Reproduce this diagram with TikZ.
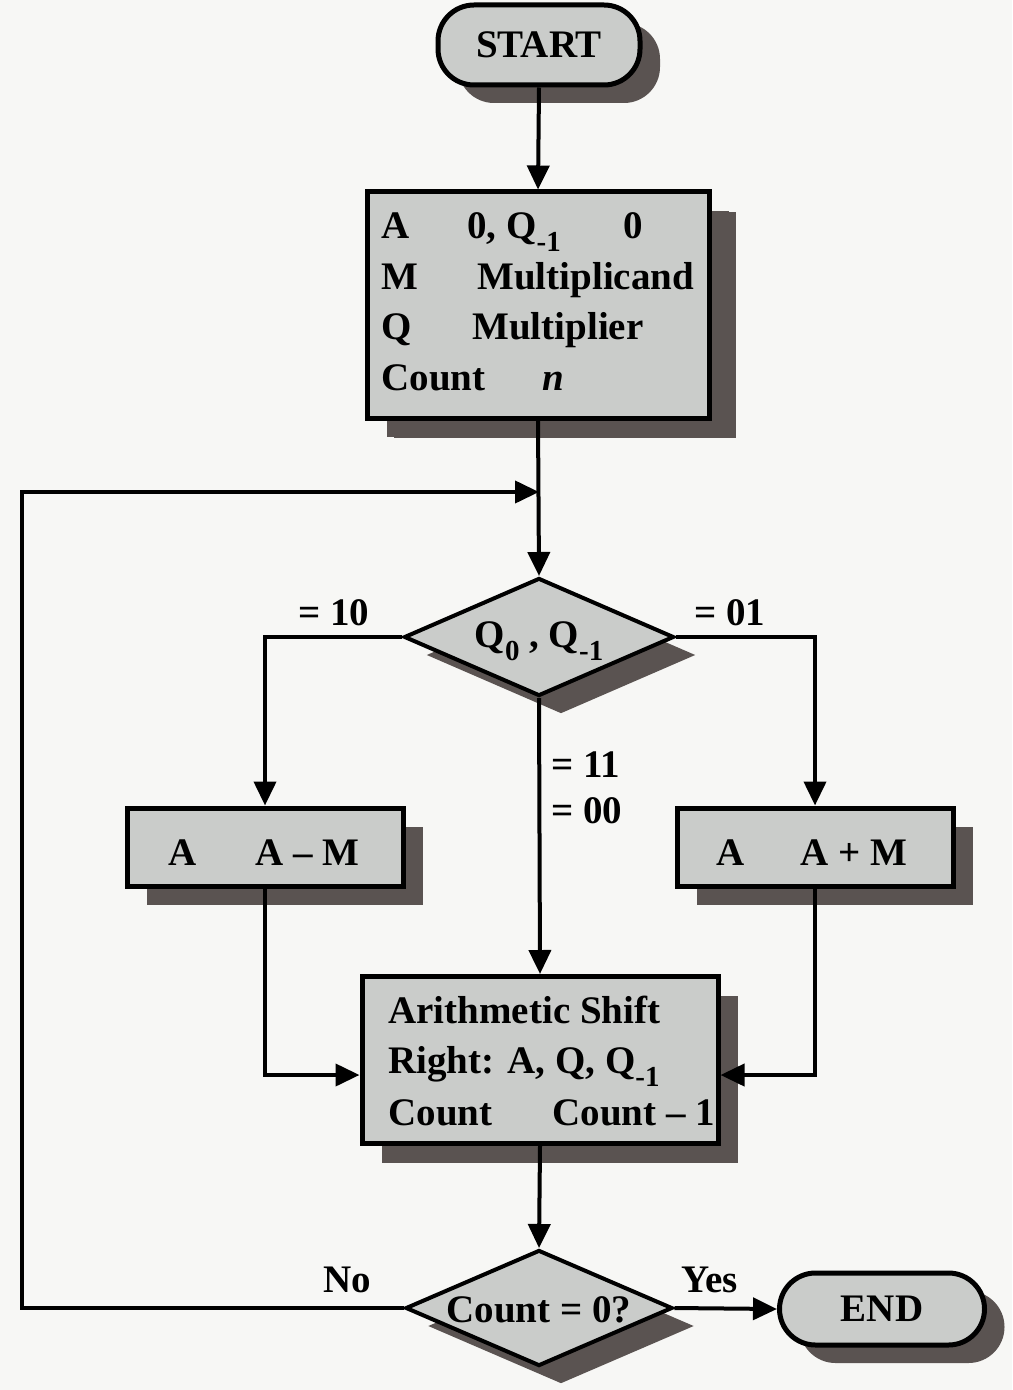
\documentclass[tikz,border=0pt]{standalone}
\usepackage{fontspec}
\setmainfont{Liberation Serif}
\usetikzlibrary{arrows.meta,shapes.geometric,shadows,calc}
\definecolor{bg}{HTML}{F7F7F5}
\definecolor{boxfill}{HTML}{CACCCA}
\definecolor{shade}{HTML}{5A5351}
\newcommand\lbl{\fontsize{19.5}{23}\selectfont\bfseries}
\newcommand\sbs[1]{\raisebox{-6.5pt}{\fontsize{14.5}{15}\selectfont\bfseries #1}}
\begin{document}
\begin{tikzpicture}[x=0.5pt,y=-0.5pt,
  shd/.style 2 args={drop shadow={shadow xshift=#1,shadow yshift=#2,fill=shade,opacity=1}},
  base/.style={draw=black,line width=2.5pt,fill=boxfill,inner sep=0pt,font=\lbl},
  term/.style={base,rectangle,rounded corners=18pt,shd={10pt}{-9pt}},
  proc/.style={base,rectangle,shd={10pt}{-9.5pt}},
  dec/.style={base,diamond,line width=2pt,shd={11pt}{-9pt}},
  txt/.style={inner sep=0pt,anchor=base west,font=\lbl},
  arr/.style={line width=2pt,-{Triangle[length=12pt,width=11pt]}}]
\fill[bg] (0,0) rectangle (1012,1390);
\useasboundingbox (0,0) rectangle (1012,1390);

% nodes
\node[term,minimum width=101pt,minimum height=40pt] (start) at (539,45) {START};

\node[proc,minimum width=171pt,minimum height=113pt,shd={13.5pt}{-10pt}] (init) at (538,305) {};
\node[txt] (i1a) at (381,239) {A};
\node[txt] (i1b) at (467,239) {0, Q\sbs{-1}};
\node[txt] (i1c) at (623,239) {0};
\node[txt] (i2a) at (381,290) {M};
\node[txt] (i2b) at (477,290) {Multiplicand};
\node[txt] (i3a) at (381,340) {Q};
\node[txt] (i3b) at (472,340) {Multiplier};
\node[txt] (i4a) at (381,390) {Count};
\node[txt] (i4b) at (542,390) {\textit{n}};

\node[dec,minimum width=135pt,minimum height=59pt] (d1) at (539,637)
  {\makebox[0pt]{\raisebox{-5pt}[0pt][0pt]{Q\sbs{0} , Q\sbs{-1}}}};
\node[txt] (l10) at (298,625) {= 10};
\node[txt] (l01) at (694,625) {= 01};
\node[txt] (l11) at (551,777) {= 11};
\node[txt] (l00) at (551,823) {= 00};

\node[proc,minimum width=138pt,minimum height=39pt] (sub) at (265,847) {};
\node[txt] (s1) at (168,865) {A};
\node[txt] (s2) at (255,865) {A -- M};
\node[proc,minimum width=138pt,minimum height=39pt] (add) at (815,847) {};
\node[txt] (a1) at (716,865) {A};
\node[txt] (a2) at (800,865) {A + M};

\node[proc,minimum width=178pt,minimum height=83.5pt] (shift) at (540,1060) {};
\node[txt] (h1) at (388,1023) {Arithmetic Shift};
\node[txt] (h2) at (388,1073) {Right: A, Q, Q\sbs{-1}};
\node[txt] (h3) at (388,1125) {Count};
\node[txt] (h4) at (552,1125) {Count -- 1};

\node[dec,minimum width=133.5pt,minimum height=58pt] (d2) at (539,1308)
  {\makebox[0pt]{\raisebox{-7pt}[0pt][0pt]{Count = 0?}}};
\node[txt] (lno) at (323,1292) {No};
\node[txt] (lyes) at (681,1292) {Yes};

\node[term,minimum width=102.5pt,minimum height=36pt] (end) at (882,1309) {END};

% connectors
\coordinate (merge) at (539,492);
\coordinate (lcorner) at (22,492);
\draw[arr] (start.south) -- (init.north);
\draw[arr] (init.south) -- (d1.north);
\draw[arr] (d2.west) -| (lcorner) -- (merge);
\draw[arr] (d1.west) -| (sub.north);
\draw[arr] (d1.east) -| (add.north);
\draw[arr] (d1.south) -- (shift.north);
\draw[arr] (sub.south) |- ([yshift=-7.5pt]shift.west);
\draw[arr] (add.south) |- ([yshift=-7.5pt]shift.east);
\draw[arr] (shift.south) -- (d2.north);
\draw[arr] (d2.east) -- (end.west);
\end{tikzpicture}
\end{document}
